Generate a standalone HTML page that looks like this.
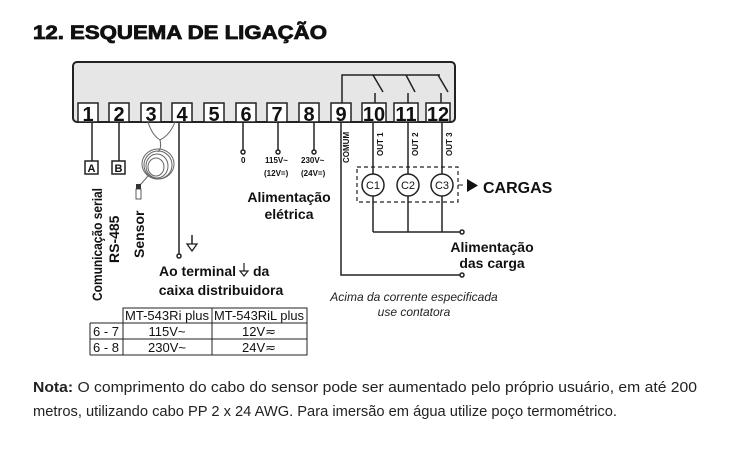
<!DOCTYPE html>
<html><head><meta charset="utf-8"><style>
html,body{margin:0;padding:0;background:#fff;}
svg{display:block;font-family:"Liberation Sans",Arial,sans-serif;}
</style></head><body>
<svg width="738" height="453" viewBox="0 0 738 453" xmlns="http://www.w3.org/2000/svg">
<text x="33" y="39" font-size="19" font-weight="bold" textLength="294" lengthAdjust="spacingAndGlyphs" fill="#111" stroke="#111" stroke-width="0.8">12. ESQUEMA DE LIGAÇÃO</text>

<rect x="73" y="62" width="382" height="60" rx="4" fill="#e6e6e6" stroke="#222" stroke-width="2"/>
<g stroke="#222" stroke-width="1.5" fill="none">
<polyline points="342,104 342,75 440,75"/>
<line x1="373" y1="75" x2="383" y2="92"/><line x1="406" y1="75" x2="415" y2="92"/><line x1="438" y1="75" x2="448" y2="92"/>
<line x1="375" y1="93" x2="375" y2="104"/><line x1="408" y1="93" x2="408" y2="104"/><line x1="441" y1="93" x2="441" y2="104"/>
</g>
<g font-size="20" font-weight="bold" text-anchor="middle" fill="#111">
<g fill="#fff" stroke="#222" stroke-width="1.5">
<rect x="78" y="103" width="20" height="19"/><rect x="109" y="103" width="20" height="19"/>
<rect x="141" y="103" width="20" height="19"/><rect x="172" y="103" width="20" height="19"/>
<rect x="204" y="103" width="20" height="19"/><rect x="236" y="103" width="20" height="19"/>
<rect x="267" y="103" width="20" height="19"/><rect x="299" y="103" width="20" height="19"/>
<rect x="331" y="103" width="20" height="19"/><rect x="362" y="103" width="24" height="19"/>
<rect x="394" y="103" width="24" height="19"/><rect x="426" y="103" width="24" height="19"/>
</g>
<text x="88" y="121">1</text><text x="119" y="121">2</text><text x="151" y="121">3</text><text x="182" y="121">4</text>
<text x="214" y="121">5</text><text x="246" y="121">6</text><text x="277" y="121">7</text><text x="309" y="121">8</text>
<text x="341" y="121">9</text><text x="374" y="121">10</text><text x="406" y="121">11</text><text x="438" y="121">12</text>
</g>

<g stroke="#222" stroke-width="1.5" fill="none">
<line x1="92" y1="122" x2="92" y2="161"/><line x1="119" y1="122" x2="119" y2="161"/>
<line x1="179" y1="122" x2="179" y2="254"/><circle cx="179" cy="256" r="2" fill="#fff"/>
<line x1="243" y1="122" x2="243" y2="150"/><circle cx="243" cy="152" r="2" fill="#fff"/>
<line x1="278" y1="122" x2="278" y2="150"/><circle cx="278" cy="152" r="2" fill="#fff"/>
<line x1="314" y1="122" x2="314" y2="150"/><circle cx="314" cy="152" r="2" fill="#fff"/>
<polyline points="341,122 341,275 460,275"/><circle cx="462" cy="275" r="2" fill="#fff"/>
<line x1="373" y1="122" x2="373" y2="232"/><line x1="408" y1="122" x2="408" y2="232"/><line x1="442" y1="122" x2="442" y2="232"/>
<line x1="373" y1="232" x2="460" y2="232"/><circle cx="462" cy="232" r="2" fill="#fff"/>
<circle cx="373" cy="185" r="11" fill="#fff"/><circle cx="408" cy="185" r="11" fill="#fff"/><circle cx="442" cy="185" r="11" fill="#fff"/>
<rect x="357" y="167" width="101" height="35" stroke-dasharray="4,3" stroke-width="1.2"/>
<line x1="458" y1="185" x2="463" y2="185" stroke-width="1"/>
<line x1="192" y1="235" x2="192" y2="244"/>
</g>
<polygon points="187,244 197,244 192,251" fill="#fff" stroke="#222" stroke-width="1.3"/>
<polygon points="467,179 467,192 478,185.5" fill="#111"/>
<g stroke="#666" stroke-width="1" fill="none">
<path d="M148,122 Q152,135 160,140 Q170,135 175,122"/>
<path d="M160,140 Q162,148 158,152"/>
<ellipse cx="158" cy="165" rx="14" ry="14"/><ellipse cx="157" cy="166" rx="11" ry="12"/><ellipse cx="156" cy="167" rx="8" ry="9"/><ellipse cx="158" cy="164" rx="16" ry="15"/>
<path d="M148,176 Q142,183 139,186"/>
</g>
<rect x="136" y="184" width="5" height="5" fill="#333"/>
<rect x="136" y="189" width="5" height="10" fill="#fff" stroke="#333" stroke-width="0.8"/>

<g stroke="#222" stroke-width="1.5" fill="#fff"><rect x="85" y="161" width="13" height="13"/><rect x="112" y="161" width="13" height="13"/></g>
<g font-size="11" font-weight="bold" text-anchor="middle" fill="#111"><text x="91.5" y="172">A</text><text x="118.5" y="172">B</text></g>

<g font-size="14" font-weight="bold" fill="#111">
<text transform="translate(102,301) rotate(-90)" textLength="113" lengthAdjust="spacingAndGlyphs">Comunicação serial</text>
<text transform="translate(119,263) rotate(-90)">RS-485</text>
<text transform="translate(144,258) rotate(-90)">Sensor</text>
<text x="236" y="276" text-anchor="end">Ao terminal</text>
<text x="253" y="276">da</text>
<text x="221" y="295" text-anchor="middle">caixa distribuidora</text>
<text x="289" y="202" text-anchor="middle">Alimentação</text>
<text x="289" y="219" text-anchor="middle">elétrica</text>
<text x="492" y="252" text-anchor="middle">Alimentação</text>
<text x="492" y="268" text-anchor="middle">das carga</text>
</g>
<g stroke="#222" stroke-width="1.2" fill="none"><line x1="244" y1="263" x2="244" y2="271"/><polygon points="240,271 248,271 244,276" fill="#fff"/></g>
<text x="483" y="193" font-size="16" font-weight="bold" fill="#111">CARGAS</text>

<g font-size="8" font-weight="bold" fill="#111">
<text x="241" y="163">0</text>
<text x="265" y="163">115V~</text><text x="264" y="176">(12V=)</text>
<text x="301" y="163">230V~</text><text x="301" y="176">(24V=)</text>
<text transform="translate(349,163) rotate(-90)">COMUM</text>
<text transform="translate(383,156) rotate(-90)">OUT 1</text>
<text transform="translate(418,156) rotate(-90)">OUT 2</text>
<text transform="translate(452,156) rotate(-90)">OUT 3</text>
</g>
<g font-size="11" fill="#111" text-anchor="middle">
<text x="373" y="189">C1</text><text x="408" y="189">C2</text><text x="442" y="189">C3</text>
</g>

<g font-size="12" font-style="italic" fill="#222" text-anchor="middle">
<text x="414" y="301">Acima da corrente especificada</text>
<text x="414" y="316">use contatora</text>
</g>

<g stroke="#222" stroke-width="1" fill="none">
<rect x="123" y="308" width="184" height="47"/>
<line x1="90" y1="323" x2="307" y2="323"/><line x1="90" y1="339" x2="307" y2="339"/>
<line x1="90" y1="323" x2="90" y2="355"/><line x1="90" y1="355" x2="123" y2="355"/>
<line x1="212" y1="308" x2="212" y2="355"/>
</g>
<g font-size="13" fill="#111" text-anchor="middle">
<text x="167" y="320" textLength="84" lengthAdjust="spacingAndGlyphs">MT-543Ri plus</text>
<text x="259" y="320" textLength="90" lengthAdjust="spacingAndGlyphs">MT-543RiL plus</text>
<text x="106" y="336">6 - 7</text><text x="106" y="352">6 - 8</text>
<text x="167" y="336">115V~</text><text x="167" y="352">230V~</text>
<text x="259" y="336">12V≂</text><text x="259" y="352">24V≂</text>
</g>

<g font-size="15" fill="#222">
<text x="33" y="392" textLength="664" lengthAdjust="spacingAndGlyphs"><tspan font-weight="bold">Nota:</tspan> O comprimento do cabo do sensor pode ser aumentado pelo próprio usuário, em até 200</text>
<text x="33" y="416" textLength="584" lengthAdjust="spacingAndGlyphs">metros, utilizando cabo PP 2 x 24 AWG. Para imersão em água utilize poço termométrico.</text>
</g>
</svg>
</body></html>
